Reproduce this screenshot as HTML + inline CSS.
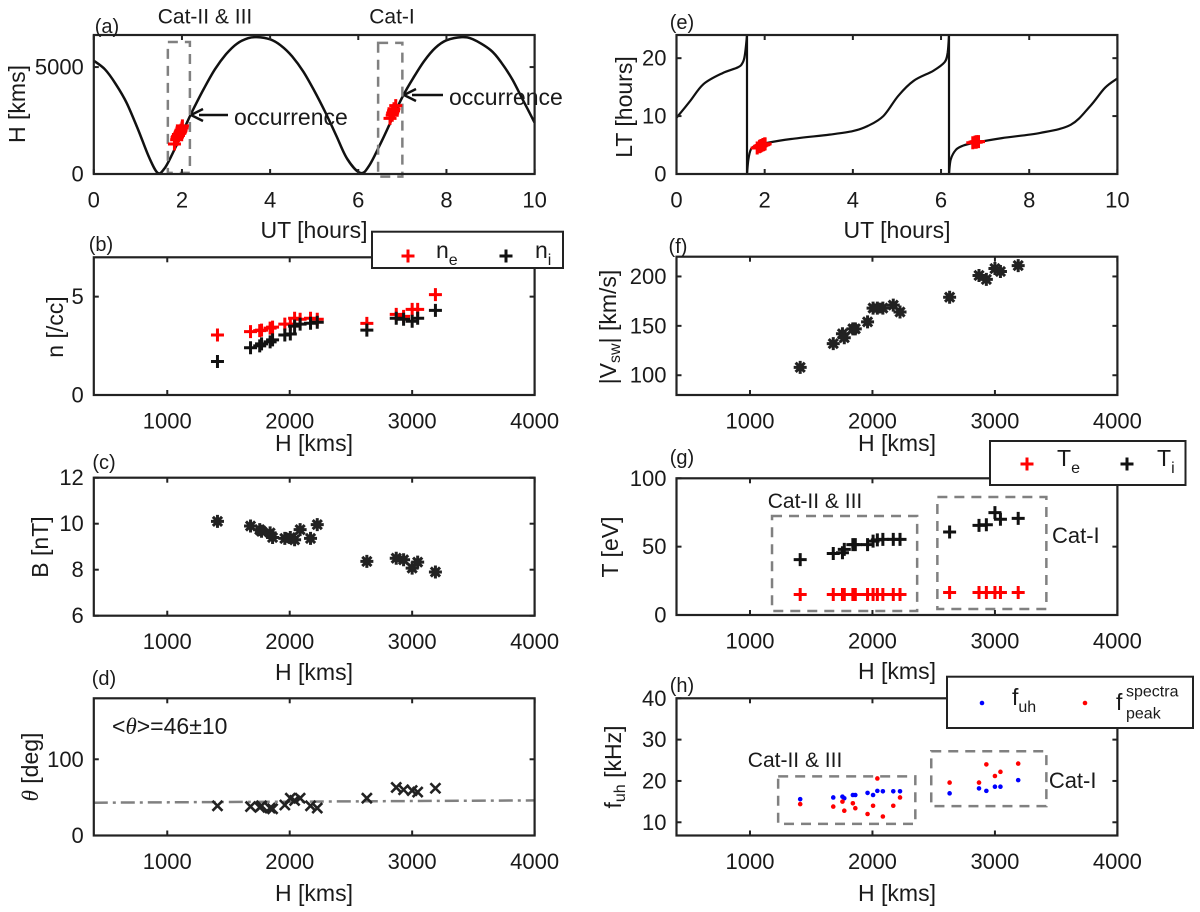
<!DOCTYPE html>
<html><head><meta charset="utf-8"><style>
html,body{margin:0;padding:0;background:#fff;}
svg{display:block;font-family:"Liberation Sans",Arial,sans-serif;}
</style></head><body>
<svg id="fig" width="1200" height="912" viewBox="0 0 1200 912" xmlns="http://www.w3.org/2000/svg"></svg>
<script>
// ---------- data ----------
const curveUT = [0,0.25,0.5,0.75,1.0,1.25,1.45,1.6,1.75,2.0,2.25,2.5,2.75,3.0,3.25,3.5,3.7,4.0,4.25,4.5,4.75,5.0,5.25,5.5,5.75,6.05,6.25,6.5,6.75,7.0,7.25,7.5,7.75,8.0,8.35,8.6,9.0,9.25,9.5,9.75,10];
const curveH = [5300,4900,4200,3300,2100,800,50,250,800,1900,3000,4000,4900,5600,6100,6350,6400,6300,6000,5500,4800,3900,2900,1800,700,50,400,1400,2500,3600,4500,5300,5900,6250,6400,6300,5800,5200,4400,3400,2400];
const ltSeg1UT = [0,0.3,0.61,1.04,1.39,1.5,1.55,1.6];
const ltSeg1 = [9.7,12.5,15.5,17.4,18.4,19.2,20.5,24];
const ltSeg2UT = [1.6,1.63,1.69,1.8,2.0,2.6,3.47,4.0,4.34,4.69,5.03,5.38,5.82,6.08,6.15,6.18];
const ltSeg2 = [0,2.5,4.3,4.9,5.3,6.05,6.8,7.4,8.3,10,13.5,16.1,17.8,19.3,21,24];
const ltSeg3UT = [6.18,6.22,6.34,6.5,6.73,7.38,8.25,8.94,9.38,9.72,10];
const ltSeg3 = [0,2.5,4.2,4.9,5.35,6.2,7.1,8.5,11.7,14.9,16.5];
const evH = [1410,1680,1755,1770,1840,1860,1960,2005,2040,2085,2170,2225,2630,2870,2930,3000,3045,3190];
const evUT = [1.83,1.88,1.89,1.9,1.92,1.92,1.95,1.96,1.97,1.98,2.0,2.01,6.72,6.77,6.78,6.8,6.81,6.85];
const evLT = [4.5,4.7,4.8,4.8,4.9,4.9,5.0,5.0,5.1,5.1,5.2,5.2,5.4,5.5,5.5,5.5,5.6,5.6];
const evHa = [1400,1600,1700,1750,1800,1850,1900,1950,2000,2050,2150,2250,2600,2750,2850,2950,3050,3200];
const ne = [3.05,3.22,3.27,3.3,3.4,3.45,3.6,3.6,3.9,3.85,3.9,3.85,3.64,4.1,4.0,4.35,4.35,5.1];
const ni = [1.7,2.4,2.5,2.6,2.7,2.8,3.05,3.1,3.5,3.6,3.65,3.7,3.3,3.9,3.85,3.75,3.9,4.3];
const Bmag = [10.1,9.9,9.74,9.67,9.6,9.4,9.36,9.4,9.3,9.74,9.36,9.96,8.36,8.5,8.43,8.07,8.33,7.9];
const theta = [39,38,37,39,36,35,40,49,46,49,39,36,49,63,60,59,57,62];
const thetaLineH = [400,4000];
const thetaLine = [43,46];
const Vsw = [108,132,142,138,147,147,154,168,168,168,171,164,179,201,197,208,205,211];
const Te = [15,15,15,15,15,15,15,15,15,15,15,15,16.5,16.5,16.5,16.5,16.5,16.5];
const Ti = [40.5,45,45.5,48,51.5,51.5,51.5,54,55,55.3,55.3,55.3,60.7,65.6,66,74.9,70,70.7];
const fuh = [15.6,16.0,16.2,15.8,16.6,16.6,17.1,16.6,17.6,17.5,17.5,17.5,17.0,18.2,17.6,18.6,18.6,20.2];
const fpeak = [14.4,13.8,15.0,12.8,14.6,13.4,12.0,14.0,20.6,11.4,14.0,16.0,19.6,19.6,24.0,21.2,22.2,24.2];
const xTicksUT = [0,2,4,6,8,10];
const xTicksH = [1000,2000,3000,4000];

// ---------- helpers ----------
const NS = "http://www.w3.org/2000/svg";
const svg = document.getElementById('fig');
function mk(tag, attrs, name, parent) {
  const el = document.createElementNS(NS, tag);
  for (const k in attrs) el.setAttribute(k, attrs[k]);
  
  
  (parent || svg).appendChild(el);
  return el;
}
function panel(x0,x1,y0,y1,xmin,xmax,ymin,ymax){
  return {x0,x1,y0,y1,xmin,xmax,ymin,ymax,
    sx:v=>x0+(v-xmin)/(xmax-xmin)*(x1-x0),
    sy:v=>y1-(v-ymin)/(ymax-ymin)*(y1-y0)};
}
const LX0=93.8, LX1=534.6, RX0=676.5, RX1=1117.4;
const pa = panel(LX0,LX1,35,174,0,10,0,6500);
const pb = panel(LX0,LX1,257.3,395,400,4000,0,7);
const pc = panel(LX0,LX1,477.7,615.7,400,4000,6,12);
const pd = panel(LX0,LX1,698.3,835.5,400,4000,0,180);
const pe = panel(RX0,RX1,35,174,0,10,0,24);
const pf = panel(RX0,RX1,256.7,395,400,4000,80,220);
const pg = panel(RX0,RX1,478.3,615,400,4000,0,100);
const ph = panel(RX0,RX1,698.3,835.5,400,4000,6.8,40);

function text(x,y,str,name,opts){
  opts=opts||{};
  const t = mk('text',{x:x,y:y,'font-size':opts.size||22,'text-anchor':opts.anchor||'middle','dominant-baseline':'central',fill:'#1a1a1a'},name);
  if(opts.rot) t.setAttribute('transform','rotate(-90 '+x+' '+y+')');
  t.textContent=str;
  return t;
}
function axes(p,xt,yt,name){
  const g = mk('g',{},name+'-axes');
  const tl=5;
  xt.forEach(v=>{
    const x=p.sx(v);
    mk('line',{x1:x,y1:p.y1,x2:x,y2:p.y1-tl,stroke:'#222','stroke-width':2},'x-tick',g);
    mk('line',{x1:x,y1:p.y0,x2:x,y2:p.y0+tl,stroke:'#222','stroke-width':2},'x-tick-top',g);
    text(x,p.y1+26,String(v),'x-tick-label');
  });
  yt.forEach(v=>{
    const y=p.sy(v);
    mk('line',{x1:p.x0,y1:y,x2:p.x0+tl,y2:y,stroke:'#222','stroke-width':2},'y-tick',g);
    mk('line',{x1:p.x1,y1:y,x2:p.x1-tl,y2:y,stroke:'#222','stroke-width':2},'y-tick-right',g);
    text(p.x0-10,y,String(v),'y-tick-label',{anchor:'end'});
  });
  mk('rect',{x:p.x0,y:p.y0,width:p.x1-p.x0,height:p.y1-p.y0,fill:'none',stroke:'#222','stroke-width':2.2},name+'-frame',g);
}
function plus(x,y,c,name){
  const s=6.5;
  mk('path',{d:`M${x-s} ${y}H${x+s}M${x} ${y-s}V${y+s}`,stroke:c,'stroke-width':3,fill:'none'},name);
}
function star(x,y,name){
  const r=6.5; let d='';
  for(let k=0;k<4;k++){const a=k*Math.PI/4;d+=`M${x-r*Math.cos(a)} ${y-r*Math.sin(a)}L${x+r*Math.cos(a)} ${y+r*Math.sin(a)}`;}
  mk('path',{d:d,stroke:'#222','stroke-width':3,fill:'none'},name);
  mk('circle',{cx:x,cy:y,r:3.5,fill:'#222'},name+'-core');
}
function cross(x,y,name){
  const s=5;
  mk('path',{d:`M${x-s} ${y-s}L${x+s} ${y+s}M${x-s} ${y+s}L${x+s} ${y-s}`,stroke:'#222','stroke-width':2.6,fill:'none'},name);
}
function dot(x,y,c,name){ mk('circle',{cx:x,cy:y,r:2.3,fill:c},name); }
function line(p,xs,ys,name,attrs){
  const d=xs.map((v,i)=>(i?'L':'M')+p.sx(v).toFixed(1)+' '+p.sy(ys[i]).toFixed(1)).join('');
  const a=Object.assign({d:d,fill:'none',stroke:'#111','stroke-width':2.5,'stroke-linejoin':'round'},attrs||{});
  mk('path',a,name);
}
function smooth(p,xs,ys,name,attrs){
  const P=xs.map((v,i)=>[p.sx(v),p.sy(ys[i])]);
  let d='M'+P[0][0].toFixed(1)+' '+P[0][1].toFixed(1);
  for(let i=0;i<P.length-1;i++){
    const p0=P[Math.max(i-1,0)],p1=P[i],p2=P[i+1],p3=P[Math.min(i+2,P.length-1)];
    const c1=[p1[0]+(p2[0]-p0[0])/6,p1[1]+(p2[1]-p0[1])/6];
    const c2=[p2[0]-(p3[0]-p1[0])/6,p2[1]-(p3[1]-p1[1])/6];
    d+=`C${c1[0].toFixed(1)} ${c1[1].toFixed(1)} ${c2[0].toFixed(1)} ${c2[1].toFixed(1)} ${p2[0].toFixed(1)} ${p2[1].toFixed(1)}`;
  }
  const a=Object.assign({d:d,fill:'none',stroke:'#111','stroke-width':2.5,'stroke-linejoin':'round'},attrs||{});
  mk('path',a,name);
}
function dbox(p,h0,h1,v0,v1,name){
  mk('rect',{x:p.sx(h0),y:p.sy(v1),width:p.sx(h1)-p.sx(h0),height:p.sy(v0)-p.sy(v1),fill:'none',stroke:'#808080','stroke-width':2.5,'stroke-dasharray':'10 7'},name);
}
function arrow(x1,y1,x2,y2,name){
  mk('line',{x1:x1,y1:y1,x2:x2+8,y2:y2,stroke:'#111','stroke-width':2.5},name);
  mk('path',{d:`M${x2} ${y2}L${x2+12} ${y2-6}M${x2} ${y2}L${x2+12} ${y2+6}`,stroke:'#111','stroke-width':2.5,fill:'none'},name+'-head');
}

// ---------- (a) ----------
smooth(pa,curveUT,curveH,'altitude-curve');
dbox(pa,1.68,2.18,50,6170,'cat-ii-iii-box-a');
dbox(pa,6.45,7.0,-120,6130,'cat-i-box-a');
evUT.forEach((t,i)=>plus(pa.sx(t),pa.sy(evHa[i]),'#f00','event-marker-a'));
text(205,17,'Cat-II & III','cat-ii-iii-label-a',{size:21});
text(392,17,'Cat-I','cat-i-label-a',{size:21});
arrow(228,115,191,115,'occurrence-arrow-1');
text(234,117,'occurrence','occurrence-label-1',{anchor:'start',size:23});
arrow(443,95,404,95,'occurrence-arrow-2');
text(449,97,'occurrence','occurrence-label-2',{anchor:'start',size:23});
axes(pa,xTicksUT,[0,5000],'panel-a');
text(107,27,'(a)','panel-a-letter',{size:20});
text(314,230,'UT [hours]','x-axis-title-a',{size:23});
text(17,104,'H [kms]','y-axis-title-a',{rot:true,size:23});

// ---------- (b) ----------
evH.forEach((h,i)=>plus(pb.sx(h),pb.sy(ne[i]),'#f00','ne-marker'));
evH.forEach((h,i)=>plus(pb.sx(h),pb.sy(ni[i]),'#111','ni-marker'));
axes(pb,xTicksH,[0,5],'panel-b');
text(101,245,'(b)','panel-b-letter',{size:20});
text(314,443,'H [kms]','x-axis-title-b',{size:23});
text(55,327,'n [/cc]','y-axis-title-b',{rot:true,size:23});
mk('rect',{x:372,y:231.7,width:191,height:36.3,fill:'#fff',stroke:'#222','stroke-width':2},'legend-b');
plus(408,256,'#f00','legend-ne-marker');
let t1=text(436,250,'n','legend-ne-label',{anchor:'start',size:23});
const s1=mk('tspan',{dy:10,'font-size':16},'legend-ne-sub',t1); s1.textContent='e';
plus(506,256,'#111','legend-ni-marker');
let t2=text(535,250,'n','legend-ni-label',{anchor:'start',size:23});
const s2=mk('tspan',{dy:10,'font-size':16},'legend-ni-sub',t2); s2.textContent='i';

// ---------- (c) ----------
evH.forEach((h,i)=>star(pc.sx(h),pc.sy(Bmag[i]),'b-marker'));
axes(pc,xTicksH,[6,8,10,12],'panel-c');
text(104,463,'(c)','panel-c-letter',{size:20});
text(314,672,'H [kms]','x-axis-title-c',{size:23});
text(40,547,'B [nT]','y-axis-title-c',{rot:true,size:23});

// ---------- (d) ----------
line(pd,thetaLineH,thetaLine,'theta-mean-line',{stroke:'#808080','stroke-width':2.5,'stroke-dasharray':'14 5 3 5'});
evH.forEach((h,i)=>cross(pd.sx(h),pd.sy(theta[i]),'theta-marker'));
axes(pd,xTicksH,[0,100],'panel-d');
text(104,679,'(d)','panel-d-letter',{size:20});
text(314,893,'H [kms]','x-axis-title-d',{size:23});
let tt=text(30,767,'','y-axis-title-d',{rot:true,size:23});
const th1=mk('tspan',{'font-style':'italic','font-family':'"Liberation Serif",serif'},'theta-symbol',tt); th1.textContent='θ';
const th2=mk('tspan',{},'theta-unit',tt); th2.textContent=' [deg]';
let mt=text(112,726,'','theta-mean-annotation',{anchor:'start',size:23});
const m1=mk('tspan',{},'mean-a',mt); m1.textContent='<';
const m2=mk('tspan',{'font-style':'italic','font-family':'"Liberation Serif",serif'},'mean-b',mt); m2.textContent='θ';
const m3=mk('tspan',{},'mean-c',mt); m3.textContent='>=46±10';

// ---------- (e) ----------
smooth(pe,ltSeg1UT,ltSeg1,'lt-curve-1',{'stroke-width':2.2});
smooth(pe,ltSeg2UT,ltSeg2,'lt-curve-2',{'stroke-width':2.2});
smooth(pe,ltSeg3UT,ltSeg3,'lt-curve-3',{'stroke-width':2.2});
line(pe,[1.6,1.6],[0,24],'lt-wrap-1',{'stroke-width':2.2});
line(pe,[6.18,6.18],[0,24],'lt-wrap-2',{'stroke-width':2.2});
evUT.forEach((t,i)=>plus(pe.sx(t),pe.sy(evLT[i]),'#f00','event-marker-e'));
axes(pe,xTicksUT,[0,10,20],'panel-e');
text(682,23,'(e)','panel-e-letter',{size:20});
text(897,230,'UT [hours]','x-axis-title-e',{size:23});
text(624,107,'LT [hours]','y-axis-title-e',{rot:true,size:23});

// ---------- (f) ----------
evH.forEach((h,i)=>star(pf.sx(h),pf.sy(Vsw[i]),'vsw-marker'));
axes(pf,xTicksH,[100,150,200],'panel-f');
text(678,247,'(f)','panel-f-letter',{size:20});
text(897,443,'H [kms]','x-axis-title-f',{size:23});
let vt=text(608,327,'|V','y-axis-title-f',{rot:true,size:23});
const v1=mk('tspan',{dy:7,'font-size':16},'vsw-sub',vt); v1.textContent='sw';
const v2=mk('tspan',{dy:-7},'vsw-unit',vt); v2.textContent='| [km/s]';

// ---------- (g) ----------
dbox(pg,1180,2365,2.9,72.4,'cat-ii-iii-box-g');
dbox(pg,2530,3420,4.4,86.3,'cat-i-box-g');
evH.forEach((h,i)=>plus(pg.sx(h),pg.sy(Te[i]),'#f00','te-marker'));
evH.forEach((h,i)=>plus(pg.sx(h),pg.sy(Ti[i]),'#111','ti-marker'));
text(pg.sx(1531),pg.sy(82.9),'Cat-II & III','cat-ii-iii-label-g',{size:21});
text(pg.sx(3466),pg.sy(58),'Cat-I','cat-i-label-g',{anchor:'start',size:22});
axes(pg,xTicksH,[0,50,100],'panel-g');
text(682,458,'(g)','panel-g-letter',{size:20});
text(897,671,'H [kms]','x-axis-title-g',{size:23});
text(610,547,'T [eV]','y-axis-title-g',{rot:true,size:23});
mk('rect',{x:990,y:441,width:195.5,height:44,fill:'#fff',stroke:'#222','stroke-width':2},'legend-g');
plus(1027,464,'#f00','legend-te-marker');
let t3=text(1057,458,'T','legend-te-label',{anchor:'start',size:23});
const s3=mk('tspan',{dy:10,'font-size':16},'legend-te-sub',t3); s3.textContent='e';
plus(1127,464,'#111','legend-ti-marker');
let t4=text(1157,458,'T','legend-ti-label',{anchor:'start',size:23});
const s4=mk('tspan',{dy:10,'font-size':16},'legend-ti-sub',t4); s4.textContent='i';

// ---------- (h) ----------
dbox(ph,1230,2350,9.6,21.1,'cat-ii-iii-box-h');
dbox(ph,2480,3420,13.9,27.2,'cat-i-box-h');
evH.forEach((h,i)=>dot(ph.sx(h),ph.sy(fuh[i]),'#00f','fuh-point'));
evH.forEach((h,i)=>dot(ph.sx(h),ph.sy(fpeak[i]),'#f00','fpeak-point'));
text(ph.sx(1368),ph.sy(25),'Cat-II & III','cat-ii-iii-label-h',{size:21});
text(ph.sx(3440),ph.sy(20.1),'Cat-I','cat-i-label-h',{anchor:'start',size:22});
axes(ph,xTicksH,[10,20,30,40],'panel-h');
text(682,686,'(h)','panel-h-letter',{size:20});
text(897,893,'H [kms]','x-axis-title-h',{size:23});
let ft=text(613,767,'f','y-axis-title-h',{rot:true,size:23});
const f1=mk('tspan',{dy:7,'font-size':16},'fuh-sub',ft); f1.textContent='uh';
const f2=mk('tspan',{dy:-7},'fuh-unit',ft); f2.textContent=' [kHz]';
mk('rect',{x:947,y:676.7,width:246,height:51.3,fill:'#fff',stroke:'#222','stroke-width':2},'legend-h');
dot(982,703,'#00f','legend-fuh-marker');
let t5=text(1012,697,'f','legend-fuh-label',{anchor:'start',size:23});
const s5=mk('tspan',{dy:10,'font-size':16},'legend-fuh-sub',t5); s5.textContent='uh';
dot(1085,703,'#f00','legend-fpeak-marker');
text(1116,702,'f','legend-fpeak-label',{anchor:'start',size:23});
text(1126,692,'spectra','legend-fpeak-sup',{anchor:'start',size:16});
text(1126,714,'peak','legend-fpeak-sub',{anchor:'start',size:16});
</script>
</body></html>
